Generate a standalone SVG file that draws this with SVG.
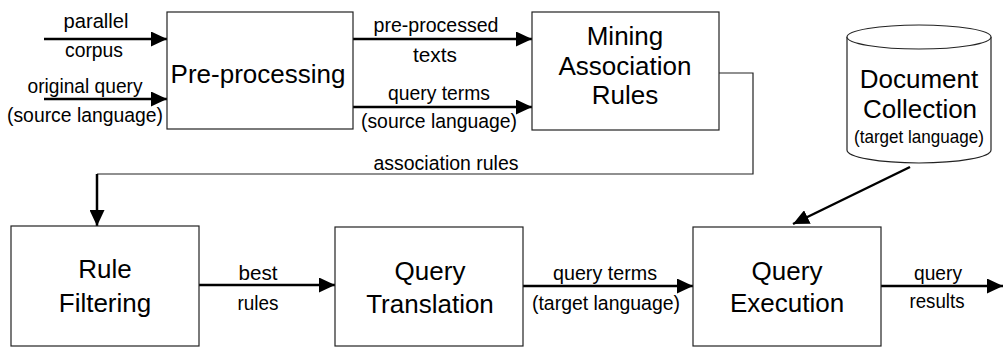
<svg xmlns="http://www.w3.org/2000/svg" width="1003" height="347" viewBox="0 0 1003 347">
<style>
.box{fill:#fff;stroke:#222;stroke-width:1.2}
.node{font-family:"Liberation Sans",Arial,sans-serif;font-size:26px;fill:#000;text-anchor:middle}
.lbl{font-family:"Liberation Sans",Arial,sans-serif;font-size:20.5px;fill:#000;text-anchor:middle}
.sm{font-family:"Liberation Sans",Arial,sans-serif;font-size:19px;fill:#000;text-anchor:middle}
.arr{fill:none;stroke:#000;stroke-width:2.5;marker-end:url(#ah)}
.thin{fill:none;stroke:#222;stroke-width:1.2}
</style>
<defs>
<marker id="ah" markerUnits="userSpaceOnUse" markerWidth="17" markerHeight="15" refX="16" refY="7.5" orient="auto">
<path d="M0,0 L16,7.5 L0,15 z" fill="#000"/>
</marker>
</defs>
<rect width="1003" height="347" fill="#fff"/>
<g id="connectors">
<line class="arr" x1="44" y1="39" x2="167" y2="39"/>
<line class="arr" x1="44" y1="99" x2="167" y2="99"/>
<line class="arr" x1="352" y1="39" x2="532" y2="39"/>
<line class="arr" x1="352" y1="107" x2="532" y2="107"/>
<path class="thin" d="M719,73 H753 V174 H97"/>
<line class="arr" x1="97" y1="174" x2="97" y2="226"/>
<line class="arr" x1="199" y1="285" x2="335" y2="285"/>
<line class="arr" x1="523" y1="286" x2="693" y2="286"/>
<line class="arr" x1="881" y1="286" x2="1003" y2="286"/>
<line class="arr" x1="910" y1="167" x2="793" y2="224"/>
<text class="lbl" x="96" y="28" textLength="65" lengthAdjust="spacingAndGlyphs">parallel</text>
<text class="lbl" x="94" y="57" textLength="58" lengthAdjust="spacingAndGlyphs">corpus</text>
<text class="lbl" x="85" y="93" textLength="115" lengthAdjust="spacingAndGlyphs">original query</text>
<text class="lbl" x="85" y="122" textLength="156" lengthAdjust="spacingAndGlyphs">(source language)</text>
<text class="lbl" x="436" y="32" textLength="125" lengthAdjust="spacingAndGlyphs">pre-processed</text>
<text class="lbl" x="435" y="62" textLength="44" lengthAdjust="spacingAndGlyphs">texts</text>
<text class="lbl" x="439" y="100" textLength="102" lengthAdjust="spacingAndGlyphs">query terms</text>
<text class="lbl" x="439" y="128" textLength="156" lengthAdjust="spacingAndGlyphs">(source language)</text>
<text class="lbl" x="446" y="170" textLength="145" lengthAdjust="spacingAndGlyphs">association rules</text>
<text class="lbl" x="258" y="280" textLength="39" lengthAdjust="spacingAndGlyphs">best</text>
<text class="lbl" x="258" y="310" textLength="41" lengthAdjust="spacingAndGlyphs">rules</text>
<text class="lbl" x="605" y="280" textLength="104" lengthAdjust="spacingAndGlyphs">query terms</text>
<text class="lbl" x="606" y="310" textLength="148" lengthAdjust="spacingAndGlyphs">(target language)</text>
<text class="lbl" x="938" y="280" textLength="48" lengthAdjust="spacingAndGlyphs">query</text>
<text class="lbl" x="937" y="308" textLength="55" lengthAdjust="spacingAndGlyphs">results</text>
</g>
<g id="preprocessing">
<rect class="box" x="167" y="12" width="186" height="117"/>
<text class="node" x="258" y="83">Pre-processing</text>
</g>
<g id="mining">
<rect class="box" x="532" y="12" width="187" height="118"/>
<text class="node" x="625" y="45">Mining</text>
<text class="node" x="625" y="75">Association</text>
<text class="node" x="625" y="104">Rules</text>
</g>
<g id="doccollection">
<path class="box" d="M847,37 V150 A72,13 0 0 0 991,150 V37"/>
<ellipse class="box" cx="919" cy="37" rx="72" ry="12"/>
<text class="node" x="919" y="88">Document</text>
<text class="node" x="920" y="118">Collection</text>
<text class="sm" x="919" y="143" textLength="130" lengthAdjust="spacingAndGlyphs">(target language)</text>
</g>
<g id="rulefiltering">
<rect class="box" x="11" y="226" width="188" height="120"/>
<text class="node" x="105" y="278">Rule</text>
<text class="node" x="105" y="312">Filtering</text>
</g>
<g id="querytranslation">
<rect class="box" x="335" y="227" width="188" height="119"/>
<text class="node" x="430" y="280">Query</text>
<text class="node" x="430" y="313">Translation</text>
</g>
<g id="queryexecution">
<rect class="box" x="693" y="227" width="188" height="119"/>
<text class="node" x="787" y="280">Query</text>
<text class="node" x="787" y="312">Execution</text>
</g>
</svg>
